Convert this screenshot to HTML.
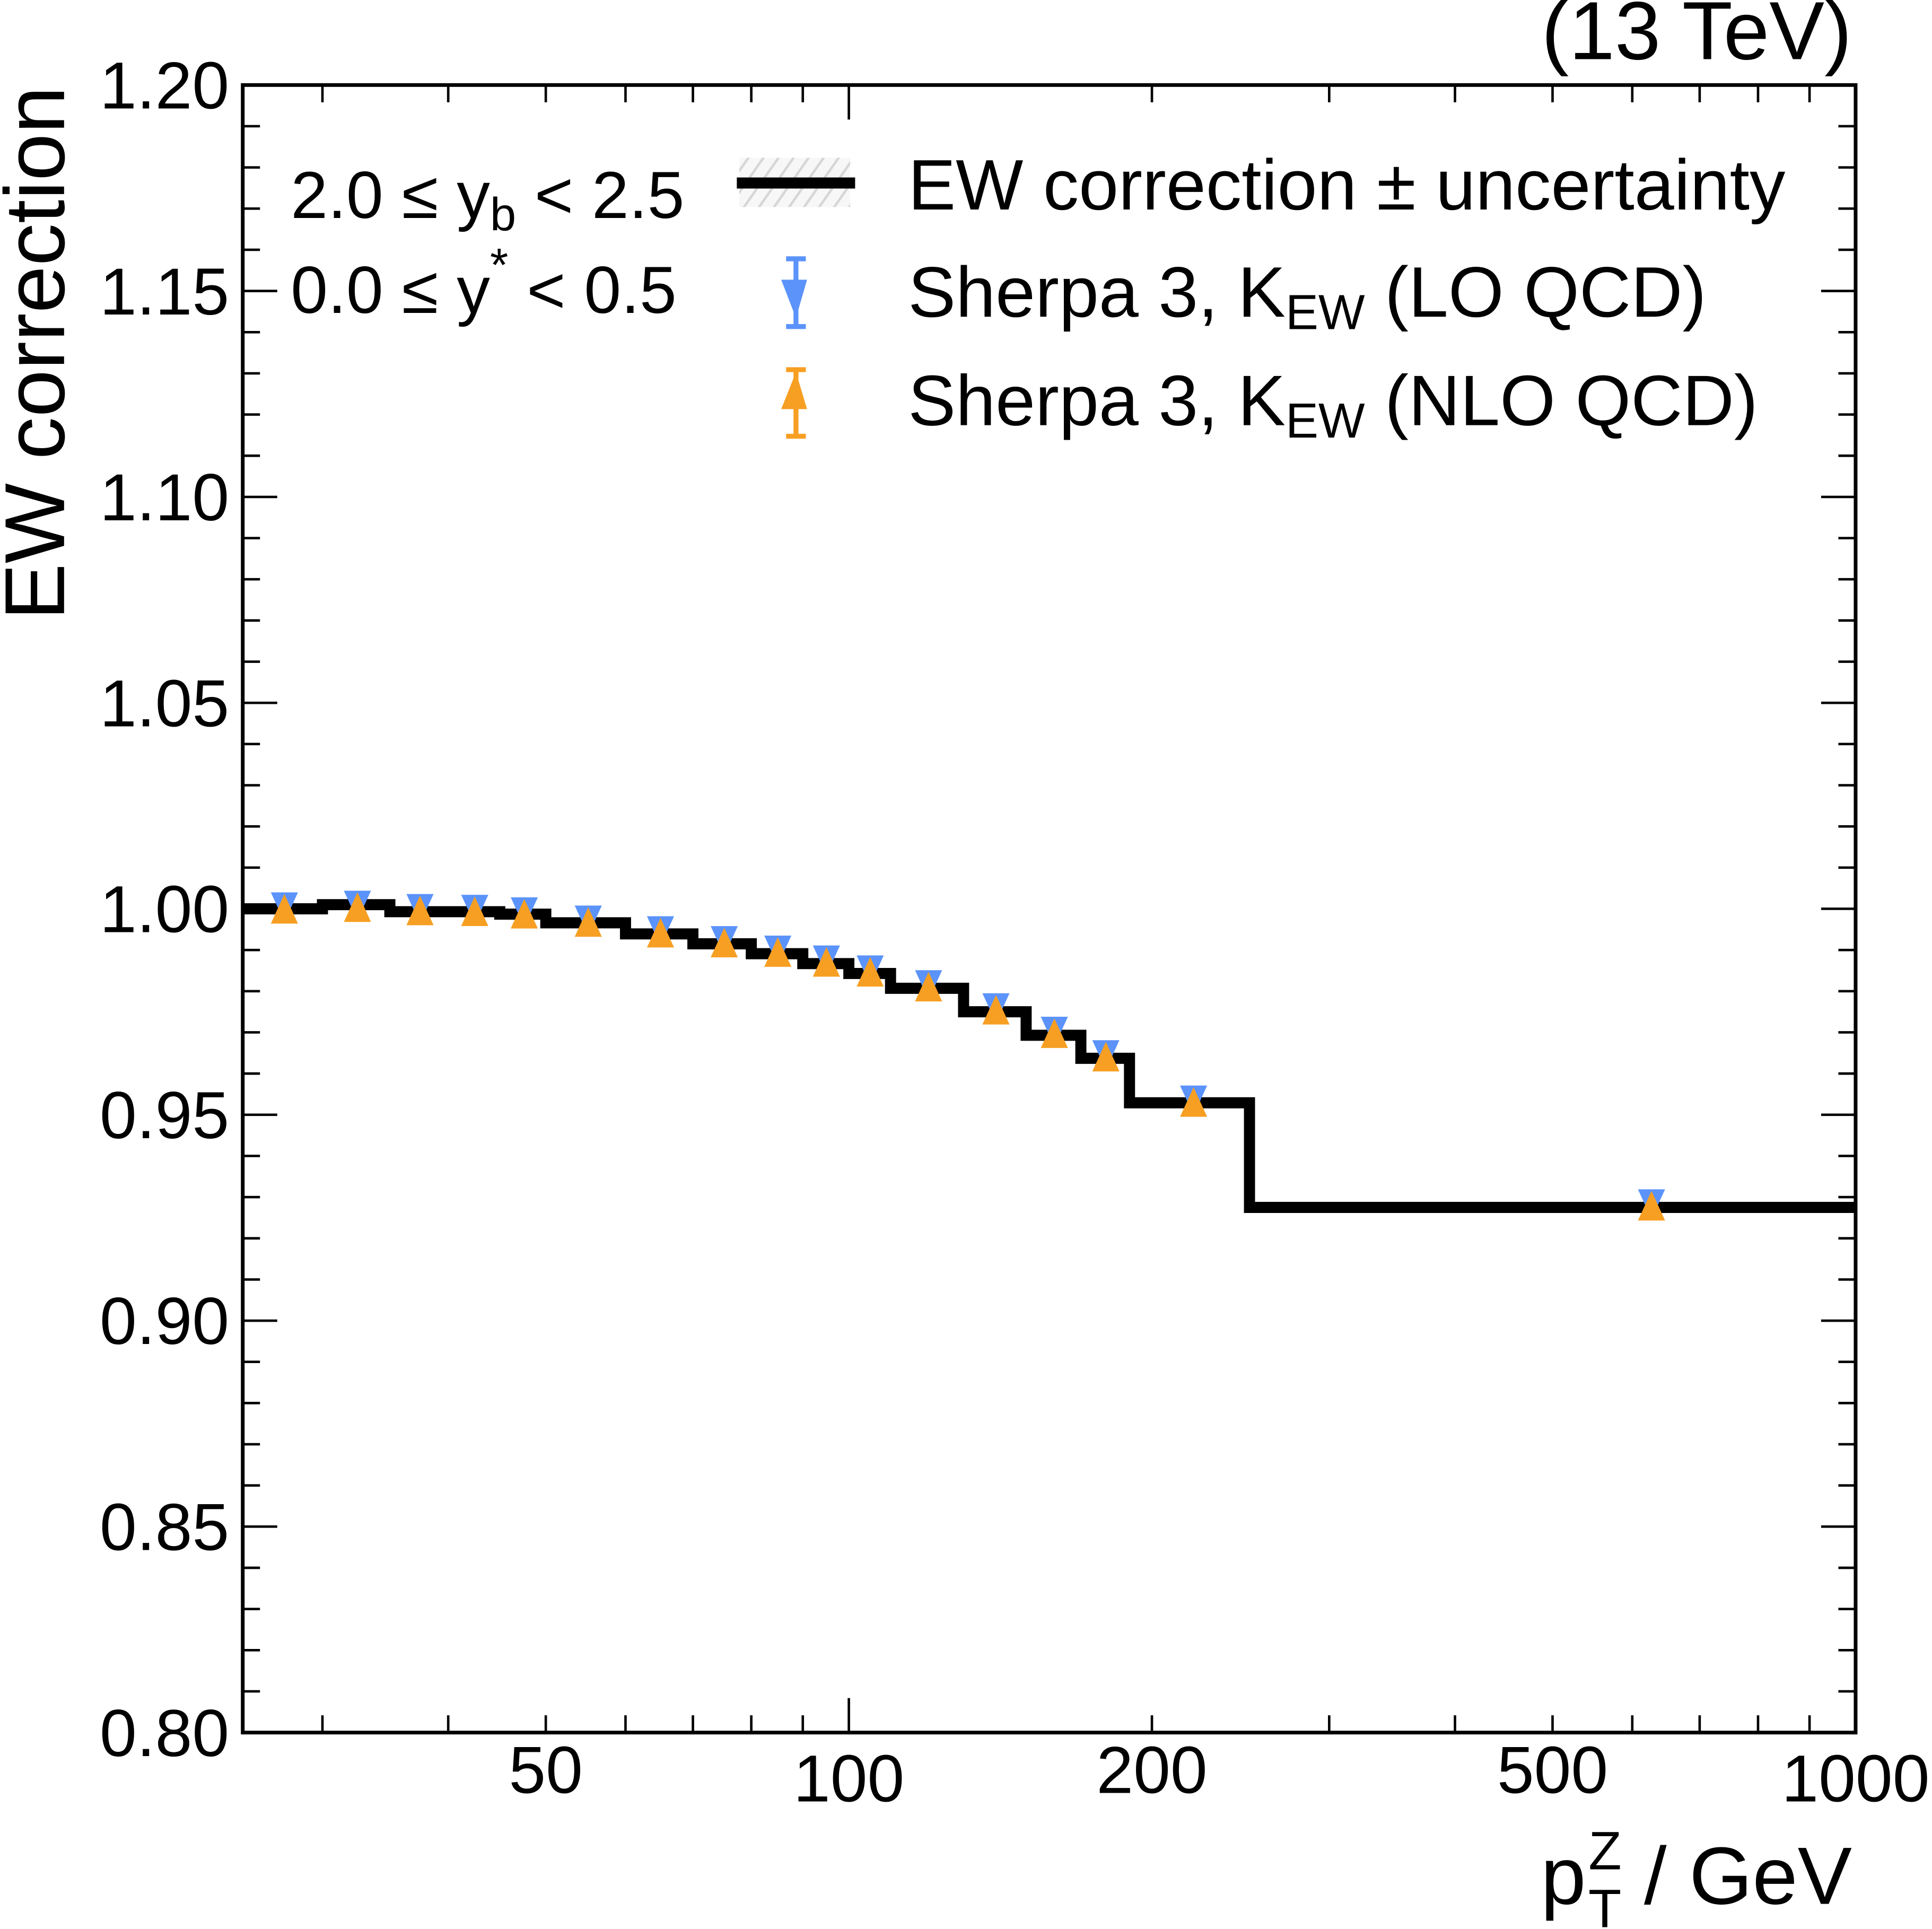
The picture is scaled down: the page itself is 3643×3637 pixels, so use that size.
<!DOCTYPE html>
<html><head><meta charset="utf-8"><style>
html,body{margin:0;padding:0;background:#fff}
svg{display:block}
text{font-family:"Liberation Sans",Arial,sans-serif;fill:#000}
</style></head><body>
<svg id="chart" width="3643" height="3637" viewBox="0 0 1568 1565.4" xmlns="http://www.w3.org/2000/svg">
<defs>
<pattern id="hatch" patternUnits="userSpaceOnUse" width="10" height="10" patternTransform="rotate(35)">
<rect width="10" height="10" fill="#f7f7f7"/><line x1="0" y1="0" x2="0" y2="10" stroke="#d6d6d6" stroke-width="4"/>
</pattern>
</defs>
<g id="marks"></g>
<rect x="197" y="69" width="1309" height="1337" fill="none" stroke="#000" stroke-width="3"/>
<g id="ticks"></g>
<text x="1503" y="48" font-size="67" text-anchor="end">(13 TeV)</text>
<text transform="translate(52,70) rotate(-90)" font-size="69" text-anchor="end">EW correction</text>
<text x="1503" y="1545" font-size="66" text-anchor="end">p<tspan font-size="44" dx="2" dy="-28">Z</tspan><tspan font-size="44" dx="-27" dy="47">T</tspan><tspan dy="-19"> / GeV</tspan></text>
<text x="236" y="177" font-size="54">2.0 ≤ y<tspan font-size="38" dy="10">b</tspan><tspan dy="-10"> &lt; 2.5</tspan></text>
<text x="236" y="254" font-size="54">0.0 ≤ y<tspan font-size="38" dy="-26">*</tspan><tspan dy="26"> &lt; 0.5</tspan></text>
<g>
<rect x="600" y="128" width="90" height="40" fill="url(#hatch)"/>
<rect x="598" y="144" width="96" height="9" fill="#000"/>
<text x="737" y="170" font-size="58">EW correction ± uncertainty</text>
<g>
<line x1="646" y1="209" x2="646" y2="266" stroke="#5b93fb" stroke-width="4"/>
<line x1="638" y1="210" x2="654" y2="210" stroke="#5b93fb" stroke-width="4"/>
<line x1="638" y1="265" x2="654" y2="265" stroke="#5b93fb" stroke-width="4"/>
<polygon points="634,227 655,227 646,258" fill="#5b93fb"/>
</g>
<text x="737" y="257" font-size="58">Sherpa 3, K<tspan font-size="40" dy="10">EW</tspan><tspan dy="-10"> (LO QCD)</tspan></text>
<g>
<line x1="646" y1="299" x2="646" y2="355" stroke="#f79f22" stroke-width="4"/>
<line x1="638" y1="300" x2="654" y2="300" stroke="#f79f22" stroke-width="4"/>
<line x1="638" y1="354" x2="654" y2="354" stroke="#f79f22" stroke-width="4"/>
<polygon points="634,332 655,332 646,302" fill="#f79f22"/>
</g>
<text x="737" y="345" font-size="58">Sherpa 3, K<tspan font-size="40" dy="10">EW</tspan><tspan dy="-10"> (NLO QCD)</tspan></text>
</g>
</svg>
<script>
const binEdges=[25,30,35,40,45,50,60,70,80,90,100,110,130,150,170,190,250,1000];
const ewValues=[1.000,1.001,0.9993,0.9993,0.9987,0.9966,0.9939,0.9915,0.9891,0.9867,0.9843,0.9807,0.975,0.9693,0.9637,0.9529,0.9275];
const pointX=[27.5,32.5,37.5,42.5,47.6,55.1,65,75.2,85,95,105,120,140,160,180,220,627];
const loValues=[1.0004,1.0008,1.0000,0.9998,0.9992,0.9972,0.9946,0.9922,0.9899,0.9875,0.9851,0.9815,0.9759,0.9702,0.9645,0.9535,0.9283];
const nloValues=[1.0000,1.0004,0.9996,0.9994,0.9988,0.9968,0.9942,0.9918,0.9895,0.9871,0.9847,0.9811,0.9755,0.9698,0.9641,0.9531,0.9279];
const yTicks=[0.80,0.85,0.90,0.95,1.00,1.05,1.10,1.15,1.20];
const xLabels=[50,100,200,500,1000];
const X0=197,X1=1506,Y0=1406,Y1=69;
const xs=v=>X0+(Math.log10(v)-Math.log10(25))/(3-Math.log10(25))*(X1-X0);
const ys=v=>Y0-(v-0.8)/0.4*(Y0-Y1);
const NS='http://www.w3.org/2000/svg';
function mk(t,a,p){const e=document.createElementNS(NS,t);for(const k in a)e.setAttribute(k,a[k]);p.appendChild(e);return e;}
const marks=document.getElementById('marks'),ticks=document.getElementById('ticks');
let d='';
ewValues.forEach((v,i)=>{const y=ys(v);d+=(i?'L':'M')+xs(binEdges[i])+' '+y+' L'+xs(binEdges[i+1])+' '+y+' ';});
const step=mk('path',{d:d,fill:'none',stroke:'#000','stroke-width':9},marks);


pointX.forEach((x,i)=>{
 const cx=xs(x);
 const yl=ys(loValues[i]);
 const lo=mk('polygon',{points:`${cx-11},${yl-12} ${cx+11},${yl-12} ${cx},${yl+12}`,fill:'#5b93fb'},marks);
 
 
 const yn=ys(nloValues[i]);
 const no=mk('polygon',{points:`${cx-11},${yn+12} ${cx+11},${yn+12} ${cx},${yn-12}`,fill:'#f79f22'},marks);
 
 
});
for(let k=0;k<=40;k++){const v=0.8+k*0.01;const y=ys(v);const maj=k%5===0;const L=maj?28:14;
 mk('line',{x1:X0,y1:y,x2:X0+L,y2:y,stroke:'#000','stroke-width':2},ticks);
 mk('line',{x1:X1,y1:y,x2:X1-L,y2:y,stroke:'#000','stroke-width':2},ticks);}
yTicks.forEach(v=>{const t=mk('text',{x:186,y:ys(v)+19,'font-size':54,'text-anchor':'end'},ticks);t.textContent=v.toFixed(2);
 
 });
const xt=[30,40,50,60,70,80,90,100,200,300,400,500,600,700,800,900,1000];
xt.forEach(v=>{const x=xs(v);const maj=(v===100||v===1000);const L=maj?28:14;
 mk('line',{x1:x,y1:Y0,x2:x,y2:Y0-L,stroke:'#000','stroke-width':2},ticks);
 mk('line',{x1:x,y1:Y1,x2:x,y2:Y1+L,stroke:'#000','stroke-width':2},ticks);});
xLabels.forEach(v=>{const big=(v===100||v===1000);const t=mk('text',{x:xs(v),y:big?1462:1455,'font-size':54,'text-anchor':'middle'},ticks);t.textContent=v;
 
 });
</script>
</body></html>
